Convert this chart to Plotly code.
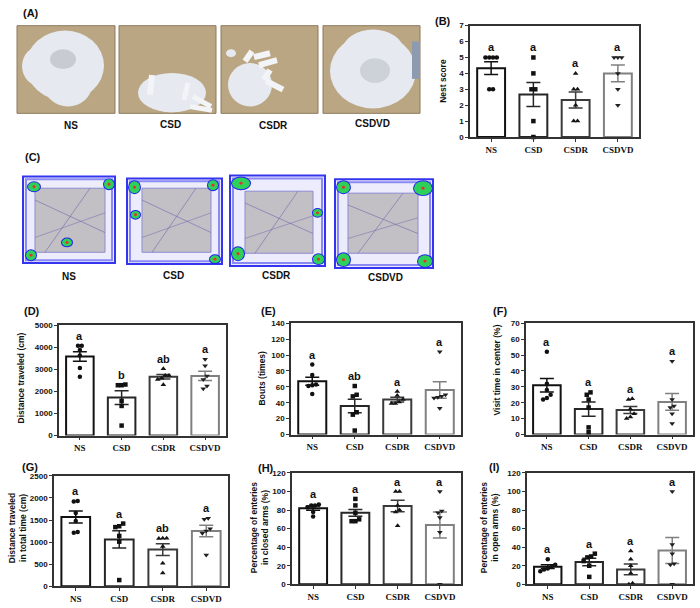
import plotly.graph_objects as go

W, H = 700, 608
groups = ["NS", "CSD", "CSDR", "CSDVD"]

# ---------------- data ----------------
nest_points = [[5, 5, 5, 5, 3, 3], [5, 4, 3, 3, 1, 0], [4, 3, 3, 2, 1, 1], [5, 5, 5, 4, 3, 2]]
nest_mean = [4.33, 2.67, 2.33, 4.0]
nest_sem = [0.40, 0.76, 0.50, 0.52]
nest_letters = ["a", "a", "a", "a"]

dist_points = [[4070, 4070, 3880, 3630, 3060, 2660], [2310, 2280, 2280, 1570, 1340, 450],
               [3030, 2720, 2720, 2600, 2540, 2300], [3460, 3160, 2700, 2540, 2240, 2120]]
dist_mean = [3580, 1720, 2660, 2700]
dist_sem = [220, 310, 100, 210]
dist_letters = ["a", "b", "ab", "a"]

bouts_points = [[88, 75, 63, 62, 61, 51], [61, 50, 48, 28, 25, 5],
                [54, 49, 44, 41, 39, 39], [104, 50, 48, 47, 46, 33]]
bouts_mean = [67, 36, 44, 56]
bouts_sem = [5, 8.5, 3, 10.5]
bouts_letters = ["a", "ab", "a", "a"]

center_points = [[52, 32, 28, 25, 23, 22], [26.5, 25, 22, 17, 4.5, 1.5],
                 [22.5, 22, 16, 13, 11, 10], [46, 22, 18, 17, 13, 7]]
center_mean = [31, 16, 15.5, 20.5]
center_sem = [4.3, 4.5, 2.2, 5.3]
center_letters = ["a", "a", "a", "a"]

total_points = [[1930, 1920, 1660, 1480, 1230, 1210], [1420, 1360, 1340, 1140, 1010, 140],
                [1090, 1090, 1080, 900, 520, 300], [1540, 1520, 1300, 1250, 1200, 710]]
total_mean = [1570, 1060, 830, 1250]
total_sem = [135, 195, 135, 130]
total_letters = ["a", "a", "ab", "a"]

closed_points = [[86, 85, 85, 83, 78, 73], [92, 85, 77, 70, 68, 68],
                 [100, 100, 85, 80, 78, 63], [100, 79, 77, 72, 56, 0]]
closed_mean = [82, 77, 84.5, 64]
closed_sem = [2.3, 3.7, 6.2, 14]
closed_letters = ["a", "a", "a", "a"]

open_points = [[27, 21, 19, 17, 16, 14], [33, 30, 29, 25, 20, 8],
               [36, 27, 20, 12, 1, 0], [100, 43, 33, 22, 21, 0]]
open_mean = [19, 24, 16, 36.5]
open_sem = [2, 4, 5.8, 14]
open_letters = ["a", "a", "a", "a"]

# ---------------- styles / layout ----------------
edge_colors = ["#111111", "#262626", "#3a3a3a", "#808080"]
point_colors = ["#111111", "#111111", "#151515", "#202020"]
symbols = ["circle", "square", "triangle-up", "triangle-down"]
sizes = [4.5, 4.5, 5, 5]
SANS = "Liberation Sans, Arial, sans-serif"
SERIF = "Liberation Serif, Times New Roman, serif"

panels = [
    dict(pts=nest_points, mean=nest_mean, sem=nest_sem, let=nest_letters, ymax=7, dtick=1,
         title="Nest score", box=(470, 639, 22, 135), tx=(443, 78), lab="(B)", lxy=(443, 17)),
    dict(pts=dist_points, mean=dist_mean, sem=dist_sem, let=dist_letters, ymax=5000, dtick=1000,
         title="Distance traveled (cm)", box=(59, 226, 326, 438), tx=(21, 380), lab="(D)", lxy=(32, 312)),
    dict(pts=bouts_points, mean=bouts_mean, sem=bouts_sem, let=bouts_letters, ymax=140, dtick=20,
         title="Bouts (times)", box=(291, 461, 324, 437), tx=(262, 380), lab="(E)", lxy=(268, 312)),
    dict(pts=center_points, mean=center_mean, sem=center_sem, let=center_letters, ymax=70, dtick=10,
         title="Visit time in center (%)", box=(526, 693, 324, 437), tx=(497, 372), lab="(F)", lxy=(500, 312)),
    dict(pts=total_points, mean=total_mean, sem=total_sem, let=total_letters, ymax=2500, dtick=500,
         title="Distance traveled<br>in total time (cm)", box=(54, 228, 479, 591), tx=(17, 532), lab="(G)", lxy=(30, 470)),
    dict(pts=closed_points, mean=closed_mean, sem=closed_sem, let=closed_letters, ymax=120, dtick=20,
         title="Percentage of enteries<br>in closed arms (%)", box=(292, 461, 476, 589), tx=(259, 532), lab="(H)", lxy=(266, 471)),
    dict(pts=open_points, mean=open_mean, sem=open_sem, let=open_letters, ymax=120, dtick=20,
         title="Percentage of enteries<br>in open arms (%)", box=(527, 693, 476, 589), tx=(489, 532), lab="(I)", lxy=(494, 470)),
]


def px(x):
    return x / W


def py(y):
    return 1 - y / H


def swarm_offsets(values, span, d=0.09, tol=0.035):
    """Beeswarm-like horizontal offsets: points with near-equal values are spread side by side."""
    order = sorted(range(len(values)), key=lambda i: values[i])
    clusters, cur = [], [order[0]]
    for i in order[1:]:
        if abs(values[i] - values[cur[-1]]) < tol * span:
            cur.append(i)
        else:
            clusters.append(cur)
            cur = [i]
    clusters.append(cur)
    off = [0.0] * len(values)
    for c in clusters:
        n = len(c)
        for k, i in enumerate(c):
            off[i] = (k - (n - 1) / 2) * d
    return off


fig = go.Figure()
annotations = []
layout_axes = {}

for n, p in enumerate(panels, start=1):
    xa = "x" if n == 1 else f"x{n}"
    ya = "y" if n == 1 else f"y{n}"
    x0, x1, y0, y1 = p["box"]
    for g in range(4):
        fig.add_trace(go.Bar(
            x=[g], y=[p["mean"][g]], width=0.66, xaxis=xa, yaxis=ya, showlegend=False,
            marker=dict(color="white", line=dict(color=edge_colors[g], width=2)),
            error_y=dict(type="data", array=[p["sem"][g]], color=edge_colors[g], thickness=1.5, width=7),
            hoverinfo="skip"))
    for g in range(4):
        vals = p["pts"][g]
        offs = swarm_offsets(vals, p["ymax"])
        fig.add_trace(go.Scatter(
            x=[g + o for o in offs], y=vals, mode="markers", xaxis=xa, yaxis=ya, showlegend=False,
            cliponaxis=False,
            marker=dict(symbol=symbols[g], size=sizes[g], color=point_colors[g], line=dict(width=0))))
    for g in range(4):
        top = max(max(p["pts"][g]), p["mean"][g] + p["sem"][g])
        annotations.append(dict(x=g, y=top, xref=xa, yref=ya, text=p["let"][g], showarrow=False,
                                yanchor="bottom", yshift=2,
                                font=dict(family=SANS, size=11, color="#111", weight="bold")))
    kx = "xaxis" if n == 1 else f"xaxis{n}"
    ky = "yaxis" if n == 1 else f"yaxis{n}"
    layout_axes[kx] = dict(domain=[px(x0), px(x1)], anchor=ya, range=[-0.5, 3.5],
                           tickvals=[0, 1, 2, 3], ticktext=groups, showline=True, mirror=True,
                           linecolor="#333", linewidth=1.5, ticks="outside", ticklen=3, tickwidth=1,
                           tickcolor="#333", showgrid=False, zeroline=False, fixedrange=True,
                           tickfont=dict(family=SERIF, size=9, color="#111", weight="bold"))
    layout_axes[ky] = dict(domain=[py(y1), py(y0)], anchor=xa, range=[0, p["ymax"]], dtick=p["dtick"],
                           showline=True, mirror=True, linecolor="#333", linewidth=1.5,
                           ticks="outside", ticklen=3, tickwidth=1, tickcolor="#333",
                           showgrid=False, zeroline=False, fixedrange=True,
                           tickfont=dict(family=SANS, size=8, color="#111", weight="bold"))
    annotations.append(dict(x=px(p["tx"][0]), y=py(p["tx"][1]), xref="paper", yref="paper",
                            text=p["title"], textangle=-90, showarrow=False, xanchor="center",
                            yanchor="middle",
                            font=dict(family=SANS, size=8.5, color="#111", weight="bold")))
    annotations.append(dict(x=px(p["lxy"][0]), y=py(p["lxy"][1]), xref="paper", yref="paper",
                            text=p["lab"], showarrow=False, xanchor="center", yanchor="middle",
                            font=dict(family=SANS, size=11, color="#111", weight="bold")))

# ---------------- panel labels for image panels ----------------
for lab, (lx, ly) in [("(A)", (31, 9)), ("(C)", (33, 155))]:
    annotations.append(dict(x=px(lx), y=py(ly), xref="paper", yref="paper", text=lab,
                            showarrow=False, xanchor="center", yanchor="middle",
                            font=dict(family=SANS, size=11, color="#111", weight="bold")))

photo_label_pos = [(71, 123), (170, 122), (273, 123), (372, 121)]
track_label_pos = [(69, 277), (173, 276), (276, 276), (386, 278)]
for g, (lx, ly) in enumerate(photo_label_pos):
    annotations.append(dict(x=px(lx), y=py(ly), xref="paper", yref="paper", text=groups[g],
                            showarrow=False, xanchor="center", yanchor="middle",
                            font=dict(family=SANS, size=10, color="#111", weight="bold")))
for g, (lx, ly) in enumerate(track_label_pos):
    annotations.append(dict(x=px(lx), y=py(ly), xref="paper", yref="paper", text=groups[g],
                            showarrow=False, xanchor="center", yanchor="middle",
                            font=dict(family=SANS, size=10, color="#111", weight="bold")))

shapes = []


def rect(x0, y0, x1, y1, fill, line=None, lw=0, layer="above", opacity=1.0):
    shapes.append(dict(type="rect", xref="paper", yref="paper", x0=px(x0), x1=px(x1),
                       y0=py(y1), y1=py(y0), fillcolor=fill, opacity=opacity, layer=layer,
                       line=dict(color=line or fill, width=lw)))


def circ(x0, y0, x1, y1, fill, opacity=1.0):
    shapes.append(dict(type="circle", xref="paper", yref="paper", x0=px(x0), x1=px(x1),
                       y0=py(y1), y1=py(y0), fillcolor=fill, opacity=opacity,
                       line=dict(width=0)))


def seg(x0, y0, x1, y1, color, w, opacity=1.0):
    shapes.append(dict(type="line", xref="paper", yref="paper", x0=px(x0), x1=px(x1),
                       y0=py(y0), y1=py(y1), opacity=opacity, line=dict(color=color, width=w)))


# ---------------- (A) nest photos (schematic) ----------------
WOOD = "#bba684"
COTTON = "#e6eaf0"
for (a, b) in [(17, 115), (119, 216), (221, 318), (323, 420)]:
    rect(a, 22, b, 111, WOOD)
    rect(a, 22, b, 111, "rgba(0,0,0,0)", line="#8d7b5e", lw=1)
# NS
circ(26, 27, 104, 98, COTTON)
circ(22, 42, 62, 84, COTTON)
circ(44, 60, 92, 104, COTTON)
circ(50, 46, 76, 66, "#c8ccd2")
# CSD
circ(138, 70, 206, 110, COTTON)
circ(150, 82, 192, 110, COTTON)
seg(152, 72, 150, 92, "#f2f4f7", 6)
seg(188, 80, 184, 97, "#f2f4f7", 5)
seg(193, 94, 211, 104, "#f2f4f7", 5)
seg(190, 104, 212, 108, "#f2f4f7", 5)
# CSDR
circ(228, 60, 272, 104, COTTON)
circ(226, 46, 236, 54, COTTON)
seg(245, 58, 252, 48, "#f2f4f7", 6)
seg(254, 54, 270, 50, "#f2f4f7", 6)
seg(259, 62, 277, 57, "#f2f4f7", 6)
seg(264, 77, 270, 67, "#f2f4f7", 6)
seg(266, 78, 283, 87, "#f2f4f7", 6)
# CSDVD
circ(330, 30, 416, 106, COTTON)
circ(342, 26, 404, 70, COTTON)
circ(360, 55, 390, 80, "#cdd1d8")
rect(412, 38, 420, 76, "#8d9bb0")

# ---------------- (C) track heatmaps (schematic) ----------------
tracks = [
    ((23, 175, 115, 263), (35, 187, 105, 252)),
    ((127, 177, 222, 264), (142, 187, 211, 252)),
    ((230, 174, 325, 266), (245, 190, 313, 253)),
    ((335, 178, 433, 268), (348, 192, 418, 253)),
]
for (o, i) in tracks:
    rect(o[0], o[1], o[2], o[3], "#ececfc", line="#3535f0", lw=2)
    rect(o[0] + 3, o[1] + 3, o[2] - 3, o[3] - 3, "rgba(0,0,0,0)", line="#8a8af5", lw=2)
    rect(i[0], i[1], i[2], i[3], "#c2c0c4", line="#8d8bd0", lw=1)
    # a few faint trajectories
    seg(i[0], i[1] + 12, i[2], i[3] - 20, "#6e6ab0", 1, 0.6)
    seg(i[0] + 10, i[3], i[2] - 15, i[1], "#6e6ab0", 1, 0.6)
    seg(i[0], i[3] - 15, i[2], i[1] + 25, "#6e6ab0", 1, 0.5)
# hot spots (green with red core)
spots = [(28, 181, 40, 190), (104, 178, 114, 188), (26, 250, 36, 260), (62, 238, 72, 246),
         (129, 180, 140, 192), (131, 210, 140, 218), (210, 255, 220, 263), (208, 179, 218, 189),
         (232, 176, 250, 188), (232, 247, 244, 260), (313, 208, 322, 216), (313, 254, 324, 264),
         (337, 180, 350, 192), (414, 180, 432, 194), (337, 253, 350, 266), (418, 255, 432, 267)]
for (a, b, c, d) in spots:
    circ(a - 1, b - 1, c + 1, d + 1, "#2222ee")
    circ(a, b, c, d, "#2fd05a")
    circ((a + c) / 2 - 1.5, (b + d) / 2 - 1.5, (a + c) / 2 + 1.5, (b + d) / 2 + 1.5, "#e8302a")

fig.update_layout(
    width=W, height=H, margin=dict(l=0, r=0, t=0, b=0),
    paper_bgcolor="white", plot_bgcolor="white", barmode="overlay",
    showlegend=False, annotations=annotations, shapes=shapes, **layout_axes)

fig.write_html("out.html", config={"displayModeBar": False},
               post_script="document.body.style.margin='0';document.body.style.overflow='hidden';")
